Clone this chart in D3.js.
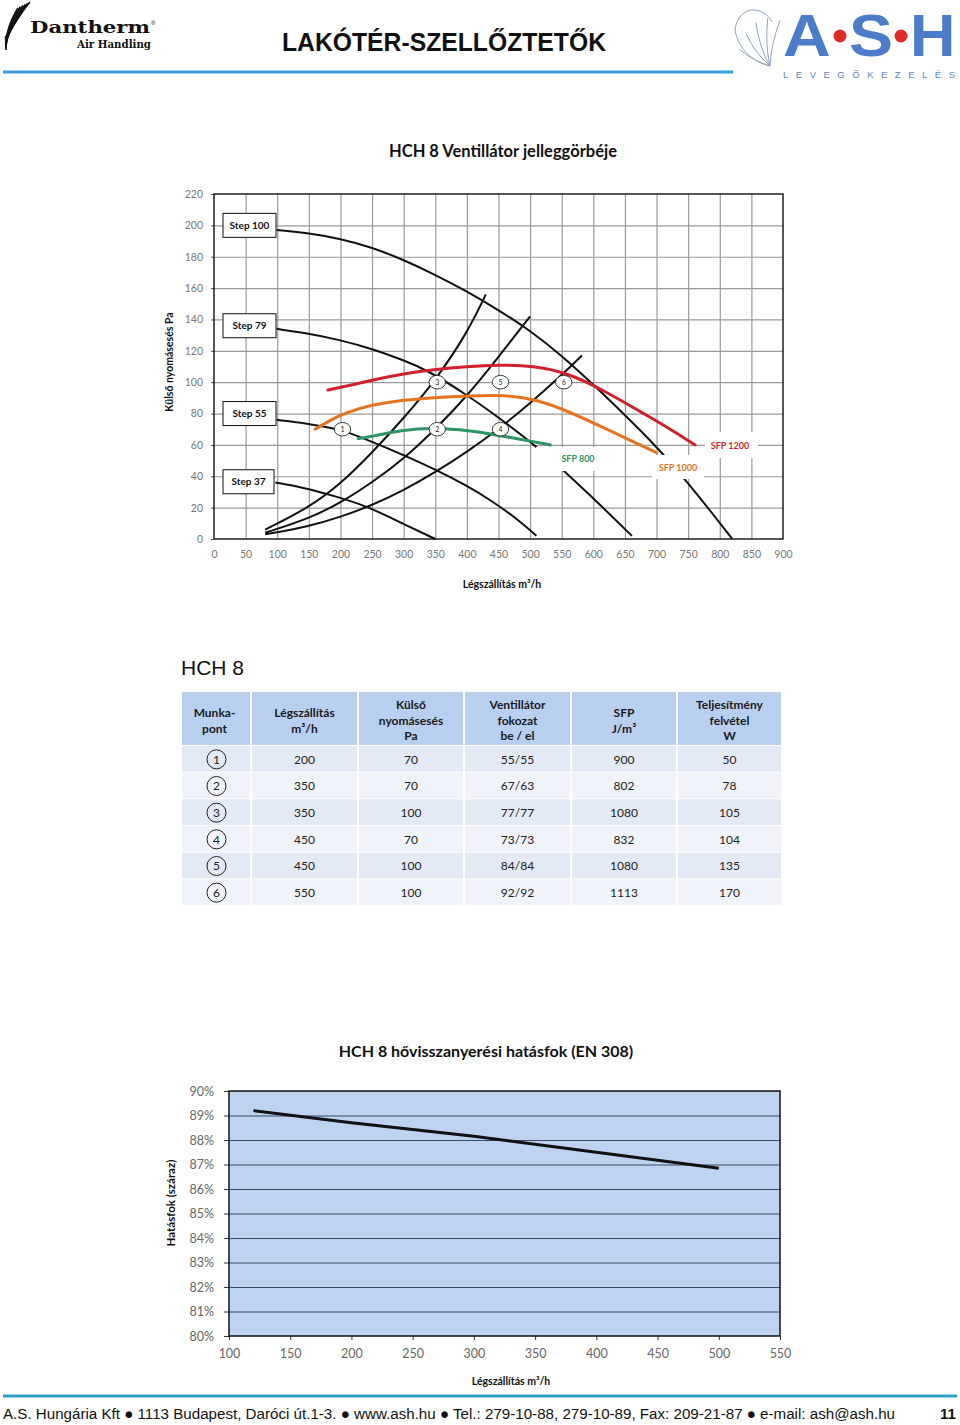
<!DOCTYPE html>
<html><head><meta charset="utf-8">
<script src="https://cdn.jsdelivr.net/npm/d3@7"></script>
<style>body{margin:0;background:#fff} svg{display:block}</style>
</head><body>
<svg id="c" width="960" height="1425"></svg>
<script>
// ---------- DATA ----------
// Chart 1: fan curves (flow m3/h, pressure Pa)
const xTicks1 = [0,50,100,150,200,250,300,350,400,450,500,550,600,650,700,750,800,850,900];
const yTicks1 = [0,20,40,60,80,100,120,140,160,180,200,220];
const stepNames = ["Step 100","Step 79","Step 55","Step 37"];
const stepLabelPa = [200,136,80,36.5];
const step100 = [[99,197],[150,195],[200,191.5],[250,186],[300,178],[350,168.5],[400,158],[450,146],[500,133],[550,117],[600,98.5],[650,79],[700,59],[745,38],[785,18],[820,0]];
const step79 = [[99,134],[136,132],[200,127],[252,121],[300,114],[336,108],[400,92],[452,77],[513,58],[552,44],[600,26],[661,2]];
const step55 = [[99,76],[130,74.5],[162,72.5],[200,70],[250,62],[300,53.5],[352,44],[400,34],[437,25],[484,11.5],[510,2]];
const step37 = [[97,36],[140,33],[190,27.5],[242,21],[300,9.5],[350,0]];
// system curves
const sysA = [[81,6],[150,20],[200,35],[250,55],[300,77],[350,101],[400,131],[430,156]];
const sysB = [[81,4],[150,13],[200,23],[250,36],[300,51],[350,70],[400,91],[450,116],[500,142]];
const sysC = [[81,3],[150,8],[200,14],[250,21.5],[300,31],[350,42.5],[400,55.5],[450,70],[500,86.5],[550,104.5],[582,117]];
// SFP iso-lines
const sfp1200 = [[180,95],[215,98],[252,101.5],[300,105.5],[347,108],[400,110],[452,111],[505,110.5],[558,106],[611,96],[658,85],[710,73],[761,60]];
const sfp1000 = [[160,70],[185,76],[205,80],[247,85.5],[300,88.5],[337,90],[405,91.3],[458,92],[511,89],[563,81],[616,71],[669,61],[700,55]];
const sfp800 = [[228,64],[252,65.5],[294,69.5],[352,71],[405,69],[437,67],[458,65.5],[500,62.5],[532,60]];
const sfpNames = ["SFP 800","SFP 1000","SFP 1200"];

// Table
const tablePoints = [1,2,3,4,5,6];
const tableFlow = [200,350,350,450,450,550];
const tablePressure = [70,70,100,70,100,100];
const tableStep = ["55/55","67/63","77/77","73/73","84/84","92/92"];
const tableSFP = [900,802,1080,832,1080,1113];
const tablePower = [50,78,105,104,135,170];

// Chart 2: efficiency
const xTicks2 = [100,150,200,250,300,350,400,450,500,550];
const yTicks2 = [0.80,0.81,0.82,0.83,0.84,0.85,0.86,0.87,0.88,0.89,0.90];
const effFlow = [120,200,300,400,500];
const effValue = [0.892,0.887,0.8815,0.875,0.8685];

// ---------- DRAW ----------
const svg = d3.select('#c');
const LATO = 'Lato, "Open Sans", sans-serif';
const ARIAL = '"Liberation Sans", Arial, sans-serif';

// ---- Header ----
const hdr = svg.append('g');
// Dantherm swoosh (striped)
for(let i=0;i<6;i++){
  hdr.append('path')
    .attr('d',`M${30-i*2.4},${2+i*1.2} C${21-i*2.6},${12+i*2.5} ${14-i*1.8},${26+i*2.2} ${5+i*0.2},${38+i*2.4}`)
    .attr('fill','none').attr('stroke','#111').attr('stroke-width',1.7);
}
hdr.append('text').attr('x',30).attr('y',33).text('Dantherm')
  .attr('font-family','"DejaVu Serif", serif').attr('font-weight','bold').attr('font-size',16)
  .attr('textLength',120).attr('lengthAdjust','spacingAndGlyphs').attr('fill','#111');
hdr.append('text').attr('x',151).attr('y',25).text('®').attr('font-size',6).attr('font-family',ARIAL);
hdr.append('text').attr('x',77).attr('y',48).text('Air Handling')
  .attr('font-family','"DejaVu Serif", serif').attr('font-weight','bold').attr('font-size',11)
  .attr('textLength',74).attr('lengthAdjust','spacingAndGlyphs').attr('fill','#111');
hdr.append('text').attr('x',282).attr('y',51).text('LAKÓTÉR-SZELLŐZTETŐK')
  .attr('font-family',ARIAL).attr('font-weight','bold').attr('font-size',25).attr('fill','#111')
  .attr('textLength',324).attr('lengthAdjust','spacingAndGlyphs');
hdr.append('line').attr('x1',3).attr('x2',733).attr('y1',72).attr('y2',72)
  .attr('stroke','#3a9fd8').attr('stroke-width',3);
// ASH fan icon
const fan = hdr.append('g').attr('fill','none').attr('stroke','#8ea4c4').attr('stroke-width',1);
fan.append('path').attr('d','M770,66 C752,62 738,48 735,30 C736,20 742,12 750,10 C760,9 768,14 772,22');
for(let i=0;i<5;i++){
  const a = 200 + i*22, r = 32;
  const ex = 770 + r*Math.cos(a*Math.PI/180), ey = 66 + r*Math.sin(a*Math.PI/180)*1.5;
  fan.append('path').attr('d',`M770,66 Q${(770+ex)/2-4},${(66+ey)/2+2} ${ex},${ey}`);
}
const ashG = hdr.append('g').attr('font-family',ARIAL).attr('font-weight','bold').attr('font-size',60).attr('fill','#4a7cc9');
ashG.append('text').attr('transform','translate(783,56) scale(1.1,1)').text('A');
ashG.append('text').attr('transform','translate(849,56) scale(1.1,1)').text('S');
ashG.append('text').attr('transform','translate(910,56) scale(1.05,1)').text('H');
hdr.append('circle').attr('cx',840).attr('cy',36).attr('r',6.5).attr('fill','#e02a2a');
hdr.append('circle').attr('cx',901).attr('cy',36).attr('r',6.5).attr('fill','#e02a2a');
hdr.append('text').attr('x',783).attr('y',77.5).text('LEVEGŐKEZELÉS').attr('font-family',ARIAL).attr('font-size',9.5).attr('fill','#5f86c0')
  .attr('textLength',172).attr('lengthAdjust','spacing');

// ---- Chart 1 ----
const x1 = d3.scaleLinear().domain([0,900]).range([214,783]);
const y1 = d3.scaleLinear().domain([0,220]).range([539,194]);
const c1 = svg.append('g');
c1.append('text').attr('x',503).attr('y',157).attr('text-anchor','middle').text('HCH 8 Ventillátor jelleggörbéje')
  .attr('font-family',LATO).attr('font-weight','bold').attr('font-size',16.5).attr('fill','#111');
// grid
c1.append('g').attr('transform','translate(0,539)')
  .call(d3.axisBottom(x1).tickValues(xTicks1.slice(1,-1)).tickSize(-345).tickFormat(''))
  .call(g=>{g.select('.domain').remove(); g.selectAll('line').attr('stroke','#9a9a9a').attr('stroke-width',1.2);});
c1.append('g').attr('transform','translate(214,0)')
  .call(d3.axisLeft(y1).tickValues(yTicks1.slice(1,-1)).tickSize(-569).tickFormat(''))
  .call(g=>{g.select('.domain').remove(); g.selectAll('line').attr('stroke','#9a9a9a').attr('stroke-width',1.2);});
// axes labels
c1.append('g').attr('transform','translate(214,0)')
  .call(d3.axisLeft(y1).tickValues(yTicks1).tickSize(3).tickPadding(8))
  .call(g=>{g.select('.domain').remove(); g.selectAll('line').attr('stroke','#555');
    g.selectAll('text').attr('font-family',LATO).attr('font-size',10.5).attr('fill','#777');});
c1.append('g').attr('transform','translate(0,539)')
  .call(d3.axisBottom(x1).tickValues(xTicks1).tickSize(0).tickPadding(12))
  .call(g=>{g.select('.domain').remove();
    g.selectAll('text').attr('font-family',LATO).attr('font-size',10.5).attr('fill','#777');});
// frame
c1.append('rect').attr('x',214).attr('y',194).attr('width',569).attr('height',345)
  .attr('fill','none').attr('stroke','#111').attr('stroke-width',1.4);
c1.append('text').attr('transform','translate(173,362) rotate(-90)').attr('text-anchor','middle')
  .text('Külső nyomásesés Pa').attr('font-family',LATO).attr('font-weight','bold').attr('font-size',10.5).attr('fill','#111');
c1.append('text').attr('x',502).attr('y',588).attr('text-anchor','middle')
  .text('Légszállítás m³/h').attr('font-family',LATO).attr('font-weight','bold').attr('font-size',10.5).attr('fill','#111');

const line1 = d3.line().x(d=>x1(d[0])).y(d=>y1(d[1])).curve(d3.curveBasis);
[step100,step79,step55,step37,sysA,sysB,sysC].forEach(s=>{
  c1.append('path').attr('d',line1(s)).attr('fill','none').attr('stroke','#111').attr('stroke-width',2);
});
[[sfp800,'#2e9468'],[sfp1000,'#e8731f'],[sfp1200,'#d11f2c']].forEach(([s,c])=>{
  c1.append('path').attr('d',line1(s)).attr('fill','none').attr('stroke',c).attr('stroke-width',3).attr('stroke-linecap','round');
});
// working points
tablePoints.forEach((p,i)=>{
  const cx = x1(tableFlow[i]) + 2, cy = y1(tablePressure[i]);
  c1.append('ellipse').attr('cx',cx).attr('cy',cy).attr('rx',8.2).attr('ry',6.8)
    .attr('fill','#fff').attr('stroke','#222').attr('stroke-width',0.9);
  c1.append('text').attr('x',cx).attr('y',cy+2.5).attr('text-anchor','middle').text(p)
    .attr('font-family',LATO).attr('font-size',7).attr('fill','#222');
});
// SFP labels with white background
const sfpLab = [
  {t:sfpNames[0],c:'#2e9468',box:[536,447,606,471],tx:578,ty:461.5},
  {t:sfpNames[1],c:'#e8731f',box:[652,455,704,479],tx:678,ty:470.5},
  {t:sfpNames[2],c:'#d11f2c',box:[705,432,758,458],tx:730,ty:448.5}
];
sfpLab.forEach(l=>{
  c1.append('rect').attr('x',l.box[0]).attr('y',l.box[1]).attr('width',l.box[2]-l.box[0]).attr('height',l.box[3]-l.box[1]).attr('fill','#fff');
  c1.append('text').attr('x',l.tx).attr('y',l.ty).attr('text-anchor','middle').text(l.t)
    .attr('font-family',LATO).attr('font-weight','bold').attr('font-size',9).attr('fill',l.c);
});
// step boxes
stepNames.forEach((n,i)=>{
  const cy = y1(stepLabelPa[i]);
  const w = i===3 ? 51 : 53;
  c1.append('rect').attr('x',223).attr('y',cy-12).attr('width',w).attr('height',24)
    .attr('fill','#fff').attr('stroke','#111').attr('stroke-width',1);
  c1.append('text').attr('x',223+w/2).attr('y',cy+3.5).attr('text-anchor','middle').text(n)
    .attr('font-family',LATO).attr('font-weight','bold').attr('font-size',10).attr('fill','#111');
});

// ---- Table ----
const tb = svg.append('g');
tb.append('text').attr('x',181).attr('y',675).text('HCH 8').attr('font-family',ARIAL).attr('font-size',21).attr('fill','#111');
const colEdges = [182,251,358,464,571,677,782];
const headTop = 692, headBot = 745, rowH = (905-745)/6;
const headers = [["Munka-","pont"],["Légszállítás","m³/h"],["Külső","nyomásesés","Pa"],["Ventillátor","fokozat","be / el"],["SFP","J/m³"],["Teljesítmény","felvétel","W"]];
const centers = colEdges.slice(0,6).map((e,i)=>(e+colEdges[i+1])/2);
for(let c=0;c<6;c++){
  const x0 = colEdges[c]+(c?1:0), x1c = colEdges[c+1]-1;
  tb.append('rect').attr('x',x0).attr('y',headTop).attr('width',x1c-x0).attr('height',headBot-headTop).attr('fill','#b9cfef');
  const hl = headers[c];
  const startY = hl.length===3 ? 709 : 717;
  hl.forEach((t,k)=>{
    tb.append('text').attr('x',c===0?centers[c]-2:centers[c]).attr('y',startY+k*15.5).attr('text-anchor','middle').text(t)
      .attr('font-family',LATO).attr('font-weight','bold').attr('font-size',12).attr('fill','#1a1a1a');
  });
  for(let r=0;r<6;r++){
    tb.append('rect').attr('x',x0).attr('y',headBot+1+r*rowH).attr('width',x1c-x0).attr('height',rowH-1)
      .attr('fill', r%2===0 ? '#e3eaf6' : '#f0f4fa');
  }
}
tablePoints.forEach((p,r)=>{
  const cy = headBot + r*rowH + rowH/2 + 1;
  tb.append('circle').attr('cx',centers[0]).attr('cy',cy).attr('r',9.5).attr('fill','none').attr('stroke','#222').attr('stroke-width',1);
  tb.append('text').attr('x',centers[0]).attr('y',cy+4.3).attr('text-anchor','middle').text(p)
    .attr('font-family',LATO).attr('font-size',12).attr('fill','#222');
  [tableFlow[r],tablePressure[r],tableStep[r],tableSFP[r],tablePower[r]].forEach((v,k)=>{
    tb.append('text').attr('x',centers[k+1]).attr('y',cy+4.3).attr('text-anchor','middle').text(v)
      .attr('font-family',LATO).attr('font-size',12).attr('fill','#222');
  });
});

// ---- Chart 2 ----
const x2 = d3.scaleLinear().domain([100,550]).range([229,780]);
const y2 = d3.scaleLinear().domain([0.80,0.90]).range([1336,1091]);
const c2 = svg.append('g');
c2.append('text').attr('x',486).attr('y',1057).attr('text-anchor','middle').text('HCH 8 hővisszanyerési hatásfok (EN 308)')
  .attr('font-family',LATO).attr('font-weight','bold').attr('font-size',16).attr('fill','#111');
c2.append('rect').attr('x',229).attr('y',1091).attr('width',551).attr('height',245).attr('fill','#bdd3ef');
c2.append('g').attr('transform','translate(229,0)')
  .call(d3.axisLeft(y2).tickValues(yTicks2.slice(1,-1)).tickSize(-551).tickFormat(''))
  .call(g=>{g.select('.domain').remove(); g.selectAll('line').attr('stroke','#3b4b62').attr('stroke-width',1);});
c2.append('g').attr('transform','translate(229,0)')
  .call(d3.axisLeft(y2).tickValues(yTicks2).tickSize(5).tickPadding(10).tickFormat(d3.format('.0%')))
  .call(g=>{g.select('.domain').remove(); g.selectAll('line').attr('stroke','#333');
    g.selectAll('text').attr('font-family',LATO).attr('font-size',12.5).attr('fill','#666');});
c2.append('g').attr('transform','translate(0,1336)')
  .call(d3.axisBottom(x2).tickValues(xTicks2).tickSize(4).tickPadding(9))
  .call(g=>{g.select('.domain').remove(); g.selectAll('line').attr('stroke','#333');
    g.selectAll('text').attr('font-family',LATO).attr('font-size',12.5).attr('fill','#666');});
c2.append('rect').attr('x',229).attr('y',1091).attr('width',551).attr('height',245)
  .attr('fill','none').attr('stroke','#111').attr('stroke-width',1.5);
const line2 = d3.line().x((d,i)=>x2(effFlow[i])).y(d=>y2(d));
c2.append('path').attr('d',line2(effValue)).attr('fill','none').attr('stroke','#111').attr('stroke-width',3);
c2.append('text').attr('transform','translate(175,1203) rotate(-90)').attr('text-anchor','middle')
  .text('Hatásfok (száraz)').attr('font-family',LATO).attr('font-weight','bold').attr('font-size',11.5).attr('fill','#111');
c2.append('text').attr('x',511).attr('y',1385).attr('text-anchor','middle')
  .text('Légszállítás m³/h').attr('font-family',LATO).attr('font-weight','bold').attr('font-size',10.5).attr('fill','#111');

// ---- Footer ----
svg.append('line').attr('x1',3).attr('x2',957).attr('y1',1396).attr('y2',1396).attr('stroke','#2aa0c8').attr('stroke-width',3);
svg.append('text').attr('x',3).attr('y',1419)
  .text('A.S. Hungária Kft ● 1113 Budapest, Daróci út.1-3. ● www.ash.hu ● Tel.: 279-10-88, 279-10-89, Fax: 209-21-87 ● e-mail: ash@ash.hu')
  .attr('font-family',ARIAL).attr('font-size',15.5).attr('fill','#111')
  .attr('textLength',892).attr('lengthAdjust','spacingAndGlyphs');
svg.append('text').attr('x',948).attr('y',1419).attr('text-anchor','middle').text('11')
  .attr('font-family',ARIAL).attr('font-weight','bold').attr('font-size',15).attr('fill','#111');
</script>
</body></html>
